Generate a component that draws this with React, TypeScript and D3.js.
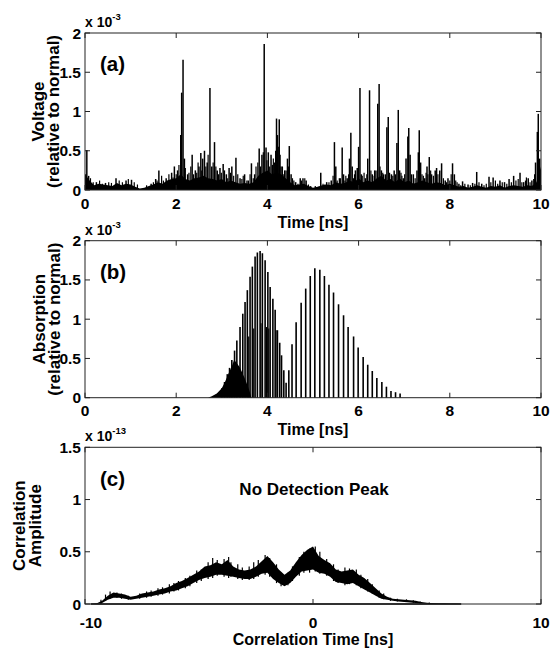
import React from "react";
import * as d3 from "d3";

// ---------- Panel (a): voltage (x 1e-3) ----------
const aFloorTimes = d3.range(0, 101).map((i) => i / 10);
const aFloor = [
  0.2, 0.12, 0.06, 0.08, 0.07, 0.06, 0.05, 0.09, 0.06, 0.08,
  0.07, 0.04, 0.02, 0.03, 0.05, 0.07, 0.1, 0.08, 0.12, 0.14,
  0.15, 0.2, 0.14, 0.12, 0.15, 0.16, 0.18, 0.15, 0.14, 0.12,
  0.14, 0.1, 0.12, 0.1, 0.08, 0.09, 0.08, 0.1, 0.18, 0.22,
  0.25, 0.2, 0.22, 0.2, 0.15, 0.1, 0.06, 0.07, 0.08, 0.05,
  0.03, 0.04, 0.06, 0.07, 0.06, 0.1, 0.08, 0.09, 0.12, 0.1,
  0.15, 0.1, 0.12, 0.1, 0.15, 0.18, 0.12, 0.14, 0.1, 0.15,
  0.1, 0.12, 0.08, 0.1, 0.12, 0.1, 0.08, 0.1, 0.09, 0.06,
  0.08, 0.06, 0.04, 0.05, 0.03, 0.04, 0.06, 0.04, 0.03, 0.05,
  0.04, 0.06, 0.03, 0.05, 0.06, 0.05, 0.04, 0.06, 0.05, 0.1,
  0.3,
];
const aSpikeTimes = [
  0.02, 0.04, 0.08, 0.25, 0.45, 0.68, 0.9, 1.02, 1.45, 1.55, 1.62, 1.78, 1.9, 1.96, 2.03,
  2.1, 2.12, 2.15, 2.18, 2.25, 2.35, 2.42, 2.5, 2.54, 2.58, 2.62, 2.68, 2.74, 2.78, 2.84,
  2.9, 2.96, 3.03, 3.1, 3.16, 3.22, 3.31, 3.4, 3.5, 3.58, 3.65, 3.72, 3.82, 3.88, 3.93,
  3.97, 4.02, 4.08, 4.15, 4.2, 4.22, 4.26, 4.3, 4.38, 4.44, 4.48, 4.52, 4.62, 4.72, 4.78,
  4.85, 5.17, 5.3, 5.4, 5.47, 5.5, 5.58, 5.64, 5.67, 5.75, 5.8, 5.83, 5.86, 5.93, 5.97,
  6.0, 6.03, 6.06, 6.15, 6.2, 6.24, 6.3, 6.38, 6.42, 6.45, 6.5, 6.55, 6.62, 6.65, 6.72,
  6.78, 6.84, 6.87, 6.9, 6.98, 7.04, 7.08, 7.1, 7.13, 7.2, 7.28, 7.31, 7.33, 7.36, 7.45,
  7.5, 7.55, 7.6, 7.68, 7.71, 7.78, 7.82, 7.9, 7.96, 8.06, 8.1, 8.2, 8.28, 8.4, 8.5,
  8.59, 8.7, 8.86, 8.95, 9.1, 9.2, 9.3, 9.4, 9.54, 9.62, 9.72, 9.8, 9.88, 9.92, 9.94, 9.97,
];
const aSpikeValues = [
  0.2, 0.51, 0.18, 0.1, 0.09, 0.15, 0.12, 0.13, 0.08, 0.14, 0.25, 0.15, 0.22, 0.3, 0.25,
  0.7, 1.24, 1.66, 0.4, 0.2, 0.45, 0.25, 0.3, 0.47, 0.4, 0.5, 0.35, 1.3, 0.3, 0.61,
  0.25, 0.28, 0.33, 0.2, 0.28, 0.3, 0.41, 0.15, 0.2, 0.12, 0.34, 0.2, 0.53, 0.45, 1.86,
  0.54, 0.48, 0.45, 0.35, 0.91, 0.7, 0.9, 0.3, 0.25, 0.4, 0.56, 0.2, 0.1, 0.15, 0.15,
  0.12, 0.22, 0.1, 0.12, 0.61, 0.3, 0.15, 0.54, 0.2, 0.15, 0.4, 0.73, 0.3, 0.25, 0.28,
  0.55, 1.3, 0.2, 0.15, 0.4, 1.27, 0.2, 0.25, 1.1, 1.35, 0.25, 0.2, 0.8, 0.93, 0.2,
  0.25, 0.6, 1.02, 0.25, 0.15, 0.4, 0.68, 0.79, 0.45, 0.2, 0.25, 0.48, 0.76, 0.35, 0.15,
  0.3, 0.42, 0.2, 0.25, 0.28, 0.25, 0.34, 0.12, 0.15, 0.34, 0.2, 0.08, 0.11, 0.07, 0.09,
  0.23, 0.08, 0.17, 0.16, 0.12, 0.1, 0.14, 0.18, 0.22, 0.1, 0.15, 0.12, 0.35, 0.74, 0.97, 0.4,
];
const aSmallTimes = [
  0.12, 0.18, 0.32, 0.38, 0.52, 0.58, 0.75, 0.82, 0.95, 1.08, 1.15, 1.35, 1.5, 1.58, 1.68,
  1.72, 1.84, 1.93, 2.0, 2.06, 2.2, 2.28, 2.32, 2.38, 2.45, 2.48, 2.56, 2.65, 2.7, 2.81,
  2.87, 2.93, 2.99, 3.06, 3.13, 3.19, 3.26, 3.35, 3.44, 3.47, 3.55, 3.62, 3.69, 3.75, 3.79,
  3.85, 3.91, 3.99, 4.05, 4.11, 4.13, 4.18, 4.24, 4.28, 4.33, 4.36, 4.41, 4.46, 4.55, 4.58,
  4.67, 4.75, 4.82, 4.9, 4.95, 5.05, 5.12, 5.22, 5.26, 5.35, 5.44, 5.53, 5.6, 5.7, 5.72,
  5.78, 5.89, 5.91, 6.08, 6.12, 6.18, 6.27, 6.34, 6.35, 6.47, 6.53, 6.59, 6.68, 6.75, 6.81,
  6.93, 6.95, 7.01, 7.16, 7.24, 7.39, 7.42, 7.48, 7.52, 7.58, 7.64, 7.74, 7.86, 7.93, 8.0,
  8.03, 8.13, 8.16, 8.24, 8.33, 8.45, 8.55, 8.64, 8.75, 8.8, 8.9, 9.0, 9.05, 9.15, 9.25,
  9.35, 9.45, 9.5, 9.58, 9.66, 9.68, 9.76, 9.84, 9.86,
];
const aSmallValues = [
  0.15, 0.1, 0.12, 0.08, 0.1, 0.09, 0.12, 0.1, 0.14, 0.1, 0.07, 0.06, 0.1, 0.12, 0.18,
  0.12, 0.2, 0.16, 0.2, 0.32, 0.28, 0.22, 0.3, 0.2, 0.22, 0.35, 0.25, 0.3, 0.45, 0.35,
  0.3, 0.2, 0.22, 0.25, 0.15, 0.22, 0.18, 0.2, 0.14, 0.18, 0.12, 0.2, 0.15, 0.3, 0.35,
  0.3, 0.48, 0.38, 0.3, 0.32, 0.4, 0.5, 0.55, 0.45, 0.3, 0.2, 0.25, 0.3, 0.15, 0.12,
  0.08, 0.12, 0.15, 0.07, 0.05, 0.05, 0.04, 0.08, 0.07, 0.1, 0.18, 0.12, 0.15, 0.12, 0.18,
  0.2, 0.15, 0.2, 0.18, 0.22, 0.2, 0.25, 0.18, 0.25, 0.3, 0.22, 0.2, 0.22, 0.18, 0.2,
  0.22, 0.18, 0.2, 0.2, 0.15, 0.2, 0.18, 0.22, 0.2, 0.25, 0.18, 0.2, 0.15, 0.1, 0.12,
  0.2, 0.12, 0.1, 0.06, 0.08, 0.06, 0.08, 0.1, 0.06, 0.08, 0.1, 0.12, 0.08, 0.1, 0.08,
  0.1, 0.12, 0.14, 0.1, 0.12, 0.16, 0.1, 0.14, 0.2,
];

// ---------- Panel (b): absorption (x 1e-3) ----------
const bBaseTimes = [2.7, 2.78, 2.89, 3.0, 3.07, 3.14, 3.22, 3.27, 3.32, 3.4, 3.5, 3.6, 3.65];
const bBaseValues = [0, 0.02, 0.055, 0.12, 0.2, 0.3, 0.4, 0.48, 0.45, 0.38, 0.25, 0.1, 0];
const bBarTimes = [
  3.0, 3.06, 3.12, 3.17, 3.22, 3.28,
  3.33, 3.4, 3.46, 3.51, 3.56, 3.62, 3.67, 3.73, 3.78, 3.84, 3.89, 3.95, 4.01, 4.06, 4.12,
  4.17, 4.22, 4.27, 4.31, 4.36, 4.41,
  4.47, 4.54, 4.63, 4.74, 4.84, 4.94, 5.04, 5.15, 5.25, 5.35, 5.45, 5.56, 5.67, 5.77, 5.89,
  5.99, 6.1, 6.2, 6.3, 6.4, 6.51, 6.61, 6.71, 6.81, 6.91,
];
const bBarValues = [
  0.12, 0.2, 0.3, 0.38, 0.48, 0.6,
  0.73, 0.9, 1.07, 1.22, 1.37, 1.54, 1.67, 1.8, 1.85, 1.87, 1.84, 1.75, 1.6, 1.41, 1.26,
  1.12, 0.86, 0.7, 0.54, 0.35, 0.19,
  0.35, 0.68, 0.96, 1.21, 1.39, 1.55, 1.65, 1.63, 1.55, 1.44, 1.34, 1.19, 1.05, 0.9, 0.78,
  0.64, 0.52, 0.42, 0.34, 0.25, 0.2, 0.14, 0.085, 0.07, 0.055,
];
const bShortTimes = [3.59, 3.7, 3.86, 3.98, 4.03, 4.19];
const bShortValues = [0.78, 0.88, 0.95, 0.9, 0.88, 0.86];

// ---------- Panel (c): correlation (x 1e-13) ----------
const cTimes = d3.range(0, 81).map((i) => -10 + i * 0.25);
const cLow = [
  0, 0, 0, 0.01, 0.04, 0.06, 0.06, 0.05, 0.04, 0.05, 0.06, 0.07, 0.08, 0.09, 0.1, 0.12,
  0.13, 0.15, 0.17, 0.2, 0.23, 0.25, 0.26, 0.28, 0.28, 0.27, 0.26, 0.25, 0.24, 0.24, 0.26, 0.29,
  0.3, 0.24, 0.2, 0.17, 0.2, 0.26, 0.31, 0.32, 0.33, 0.3, 0.29, 0.26, 0.21, 0.2, 0.19, 0.2,
  0.17, 0.14, 0.11, 0.08, 0.05, 0.04, 0.03, 0.025, 0.02, 0.015, 0.01, 0.005, 0.002, 0, 0, 0,
  0, 0, 0, 0, 0, 0, 0, 0, 0, 0, 0, 0, 0, 0, 0, 0, 0,
];
const cHigh = [
  0, 0, 0.005, 0.03, 0.08, 0.11, 0.1, 0.09, 0.07, 0.08, 0.1, 0.11, 0.12, 0.14, 0.15, 0.17,
  0.2, 0.22, 0.25, 0.28, 0.31, 0.36, 0.37, 0.4, 0.38, 0.42, 0.36, 0.33, 0.32, 0.33, 0.36, 0.41,
  0.46, 0.4, 0.33, 0.28, 0.32, 0.4, 0.47, 0.52, 0.55, 0.46, 0.42, 0.39, 0.33, 0.31, 0.32, 0.33,
  0.28, 0.25, 0.2, 0.15, 0.1, 0.07, 0.05, 0.045, 0.04, 0.035, 0.03, 0.02, 0.012, 0.008, 0.005, 0.004,
  0.003, 0.003, 0, 0, 0, 0, 0, 0, 0, 0, 0, 0, 0, 0, 0, 0, 0,
];
const cJitTimes = [
  -9.3, -9.1, -8.9, -8.6, -8.4, -8.1, -7.6, -7.3, -7.1, -6.8, -6.6, -6.3, -6.1, -5.9, -5.6,
  -5.4, -5.1, -4.9, -4.6, -4.4, -4.2, -3.9, -3.7, -3.6, -3.3, -3.1, -2.8, -2.6, -2.4, -2.1,
  -1.9, -1.6, -1.4, -1.1, -0.9, -0.6, -0.4, -0.15, 0.1, 0.3, 0.6, 0.9, 1.1, 1.4, 1.6,
  1.9, 2.1, 2.4, 2.6, 2.9, 3.1, 3.4, 3.7, 4.1, 4.4, 4.7, 5.1,
];
const cJitLow = [
  0.0, 0.03, 0.05, 0.06, 0.05, 0.04, 0.05, 0.06, 0.07, 0.08, 0.09, 0.1, 0.12, 0.13, 0.15,
  0.17, 0.2, 0.22, 0.24, 0.25, 0.27, 0.26, 0.25, 0.26, 0.24, 0.23, 0.23, 0.24, 0.26, 0.28,
  0.26, 0.2, 0.17, 0.18, 0.22, 0.27, 0.3, 0.3, 0.31, 0.29, 0.27, 0.22, 0.2, 0.18, 0.19,
  0.18, 0.15, 0.12, 0.1, 0.06, 0.045, 0.03, 0.025, 0.02, 0.012, 0.006, 0.0,
];
const cJitHigh = [
  0.04, 0.09, 0.12, 0.11, 0.1, 0.08, 0.1, 0.12, 0.13, 0.15, 0.16, 0.19, 0.2, 0.22, 0.25,
  0.27, 0.32, 0.33, 0.4, 0.44, 0.42, 0.43, 0.45, 0.4, 0.38, 0.35, 0.36, 0.4, 0.42, 0.47,
  0.44, 0.38, 0.3, 0.3, 0.36, 0.45, 0.5, 0.53, 0.55, 0.5, 0.43, 0.38, 0.33, 0.35, 0.34,
  0.33, 0.28, 0.24, 0.19, 0.13, 0.1, 0.06, 0.05, 0.045, 0.035, 0.025, 0.015,
];

// ---------- tick labels ----------
const abXTicks = [0, 2, 4, 6, 8, 10];
const abYTicks = [0, 0.5, 1, 1.5, 2];
const cXTicks = [-10, 0, 10];
const cYTicks = [0, 0.5, 1, 1.5];

const FONT = "'Liberation Sans', Arial, Helvetica, sans-serif";
const W = 550;
const H = 648;
const L = 85;
const R = 541;

type Frame = { top: number; bottom: number };

function Axes({
  frame, x, y, xTicks, yTicks, xLabelY, xTitle, xTitleY, yTitles, yTitleXs, panel, panelY, exponent, firstXShift,
}: {
  frame: Frame; x: d3.ScaleLinear<number, number>; y: d3.ScaleLinear<number, number>;
  xTicks: number[]; yTicks: number[]; xLabelY: number; xTitle: string; xTitleY: number;
  yTitles: string[]; yTitleXs: number[]; panel: string; panelY: number; exponent: string; firstXShift?: number;
}) {
  const tl = 5;
  const col = "#222";
  const cy = (frame.top + frame.bottom) / 2;
  return (
    <g fontFamily={FONT} fontWeight="bold" fill="#000">
      <rect x={L} y={frame.top} width={R - L} height={frame.bottom - frame.top} fill="none" stroke={col} strokeWidth={1} />
      {xTicks.map((t) => (
        <g key={"xt" + t}>
          <line x1={x(t)} x2={x(t)} y1={frame.bottom} y2={frame.bottom - tl} stroke={col} />
          <line x1={x(t)} x2={x(t)} y1={frame.top} y2={frame.top + tl} stroke={col} />
          <text x={x(t) + (t === xTicks[0] && firstXShift ? firstXShift : 0)} y={xLabelY} fontSize={15.5} textAnchor="middle">
            {String(t)}
          </text>
        </g>
      ))}
      {yTicks.map((t) => (
        <g key={"yt" + t}>
          <line x1={L} x2={L + tl} y1={y(t)} y2={y(t)} stroke={col} />
          <line x1={R} x2={R - tl} y1={y(t)} y2={y(t)} stroke={col} />
          <text x={81} y={y(t)} fontSize={15.5} textAnchor="end" dominantBaseline="central">
            {String(t)}
          </text>
        </g>
      ))}
      <text x={(L + R) / 2} y={xTitleY} fontSize={16} textAnchor="middle">{xTitle}</text>
      {yTitles.map((s, i) => (
        <text key={s} transform={`translate(${yTitleXs[i]},${cy}) rotate(-90)`} fontSize={17} textAnchor="middle" dominantBaseline="central">
          {s}
        </text>
      ))}
      <text x={100} y={panelY} fontSize={20.5} dominantBaseline="central">{panel}</text>
      <text x={85} y={frame.top - 6} fontSize={14}>
        x 10<tspan dy={-7} fontSize={9.5}>{exponent}</tspan>
      </text>
    </g>
  );
}

export default function App() {
  const fa: Frame = { top: 33, bottom: 190 };
  const fb: Frame = { top: 240.7, bottom: 397.7 };
  const fc: Frame = { top: 447.3, bottom: 604 };

  const xa = d3.scaleLinear().domain([0, 10]).range([L, R]);
  const ya = d3.scaleLinear().domain([0, 2]).range([fa.bottom, fa.top]);
  const yb = d3.scaleLinear().domain([0, 2]).range([fb.bottom, fb.top]);
  const xc = d3.scaleLinear().domain([-10, 10]).range([L, R]);
  const yc = d3.scaleLinear().domain([0, 1.5]).range([fc.bottom, fc.top]);

  const floorArea = d3.area<number>()
    .x((_, i) => xa(aFloorTimes[i]))
    .y0(ya(0))
    .y1((d) => ya(d))(aFloor) || "";

  const bBaseArea = d3.area<number>()
    .x((_, i) => xa(bBaseTimes[i]))
    .y0(yb(0))
    .y1((d) => yb(d))(bBaseValues) || "";

  const cBand = d3.area<number>()
    .x((_, i) => xc(cTimes[i]))
    .y0((_, i) => yc(cLow[i]))
    .y1((d) => yc(d))(cHigh) || "";

  const cStart = cTimes.findIndex((_, i) => cHigh[i] > 0) - 1;
  const cEnd = 66;

  return (
    <svg width={W} height={H} style={{ position: "absolute", left: 0, top: 0, background: "#fff" }}>
      <rect width={W} height={H} fill="#fff" />
      {/* panel a */}
      <path d={floorArea} fill="#000" />
      {aSmallTimes.map((t, i) => (
        <line key={"am" + i} x1={xa(t)} x2={xa(t)} y1={ya(0)} y2={ya(aSmallValues[i])} stroke="#000" strokeWidth={1.2} />
      ))}
      {aSpikeTimes.map((t, i) => (
        <line key={"as" + i} x1={xa(t)} x2={xa(t)} y1={ya(0)} y2={ya(aSpikeValues[i])} stroke="#000" strokeWidth={1.5} />
      ))}
      <Axes frame={fa} x={xa} y={ya} xTicks={abXTicks} yTicks={abYTicks} xLabelY={208.5} xTitle="Time [ns]" xTitleY={227.5}
        yTitles={["Voltage", "(relative to normal)"]} yTitleXs={[38.5, 53]} panel="(a)" panelY={63} exponent="-3" />

      {/* panel b */}
      <path d={bBaseArea} fill="#000" />
      {bBarTimes.map((t, i) => (
        <line key={"bb" + i} x1={xa(t)} x2={xa(t)} y1={yb(0)} y2={yb(bBarValues[i])} stroke="#000" strokeWidth={1.6} />
      ))}
      {bShortTimes.map((t, i) => (
        <line key={"bs" + i} x1={xa(t)} x2={xa(t)} y1={yb(0)} y2={yb(bShortValues[i])} stroke="#000" strokeWidth={1.2} />
      ))}
      <Axes frame={fb} x={xa} y={yb} xTicks={abXTicks} yTicks={abYTicks} xLabelY={416} xTitle="Time [ns]" xTitleY={434.5}
        yTitles={["Absorption", "(relative to normal)"]} yTitleXs={[39, 54]} panel="(b)" panelY={271.7} exponent="-3" />

      {/* panel c */}
      <line x1={xc(cTimes[Math.max(cStart, 0)])} x2={xc(cTimes[cEnd])} y1={yc(0)} y2={yc(0)} stroke="#000" strokeWidth={1.5} />
      <path d={cBand} fill="#000" />
      {cJitTimes.map((t, i) => (
        <line key={"cj" + i} x1={xc(t)} x2={xc(t)} y1={yc(cJitLow[i])} y2={yc(cJitHigh[i])} stroke="#000" strokeWidth={1.2} />
      ))}
      <text x={314} y={495} fontFamily={FONT} fontWeight="bold" fontSize={17} textAnchor="middle">No Detection Peak</text>
      <Axes frame={fc} x={xc} y={yc} xTicks={cXTicks} yTicks={cYTicks} xLabelY={627.5} xTitle="Correlation Time [ns]" xTitleY={644.5}
        yTitles={["Correlation", "Amplitude"]} yTitleXs={[19, 35]} panel="(c)" panelY={478} exponent="-13" firstXShift={6} />
    </svg>
  );
}
